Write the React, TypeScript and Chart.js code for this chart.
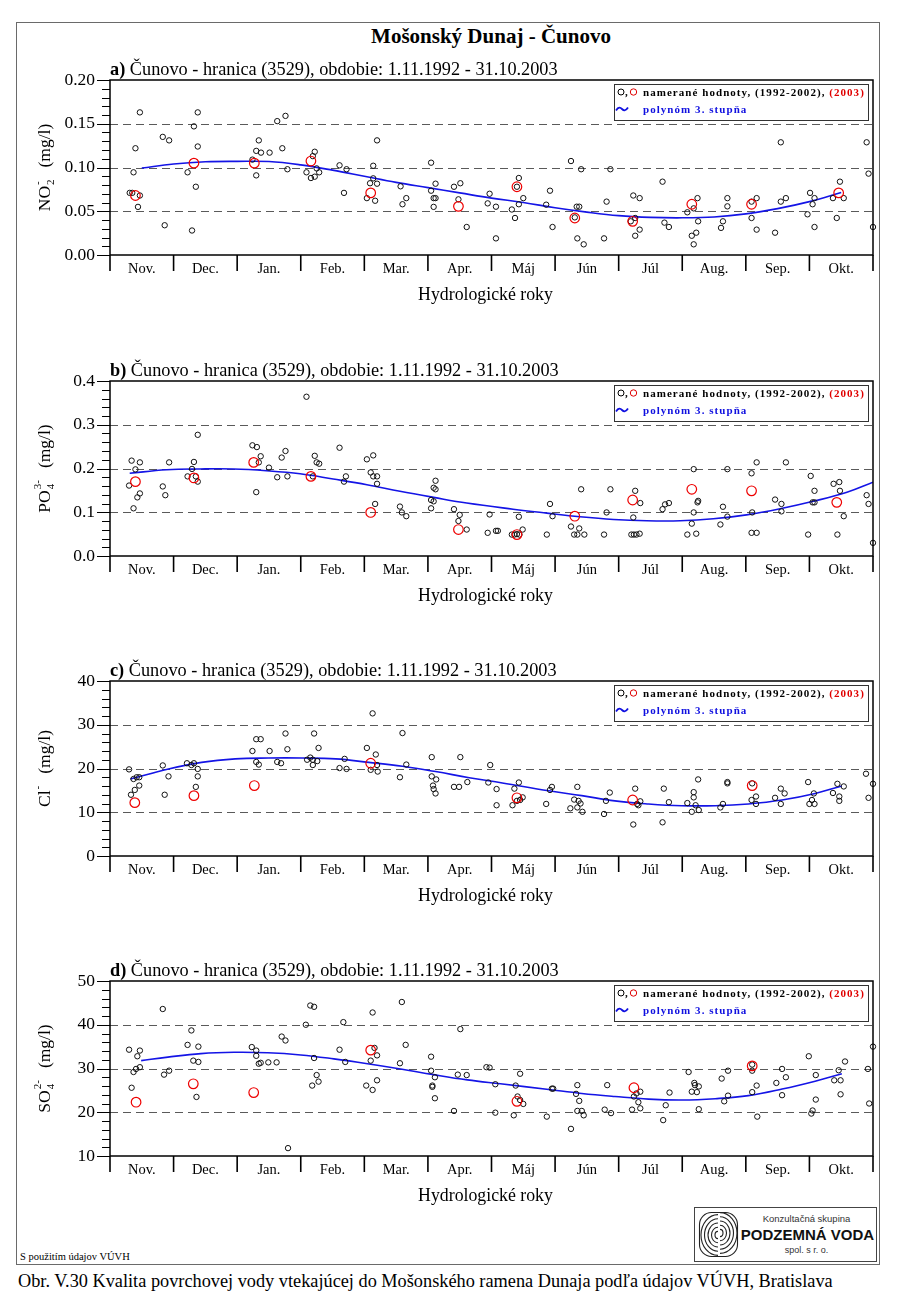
import React, { useEffect, useRef } from 'react';
import { Chart, registerables } from 'chart.js';

Chart.register(...registerables);

type Pt = [number, number];

// ---------------- data ----------------
const MAIN_TITLE = 'Mošonský Dunaj - Čunovo';
const SUBTITLE = 'Čunovo - hranica (3529), obdobie: 1.11.1992 - 31.10.2003';
const X_TITLE = 'Hydrologické roky';
const MONTHS = ['Nov.', 'Dec.', 'Jan.', 'Feb.', 'Mar.', 'Apr.', 'Máj', 'Jún', 'Júl', 'Aug.', 'Sep.', 'Okt.'];
const LEGEND_MEASURED = 'namerané hodnoty, (1992-2002), ';
const LEGEND_2003 = '(2003)';
const LEGEND_FIT = 'polynóm 3. stupňa';
const FOOT_NOTE = 'S použitím údajov VÚVH';
const CAPTION = 'Obr. V.30 Kvalita povrchovej vody vtekajúcej do Mošonského ramena Dunaja podľa údajov VÚVH, Bratislava';

// a) NO2-
const NO2_TICK_LABELS = ['0.00', '0.05', '0.10', '0.15', '0.20'];
const NO2_POINTS: Pt[] = [
  [0.31, 0.071], [0.35, 0.071], [0.47, 0.163], [0.40, 0.122], [0.37, 0.0945], [0.47, 0.068], [0.44, 0.055], [0.83, 0.135], [0.93, 0.131], [0.86, 0.034],
  [1.22, 0.0945], [1.32, 0.147], [1.38, 0.163], [1.38, 0.124], [1.35, 0.078], [1.29, 0.028],
  [2.24, 0.109], [2.30, 0.119], [2.34, 0.131], [2.375, 0.117], [2.30, 0.091], [2.51, 0.117], [2.63, 0.153], [2.76, 0.159], [2.71, 0.122], [2.79, 0.098],
  [3.22, 0.118], [3.19, 0.113], [3.09, 0.0945], [3.16, 0.088], [3.22, 0.0895], [3.29, 0.0945], [3.25, 0.099], [3.61, 0.1025], [3.72, 0.098], [3.68, 0.071],
  [4.14, 0.102], [4.20, 0.131], [4.14, 0.0876], [4.09, 0.082], [4.20, 0.0815], [4.04, 0.065], [4.17, 0.062], [4.57, 0.0785], [4.60, 0.058], [4.66, 0.065],
  [5.05, 0.1055], [5.12, 0.0815], [5.05, 0.0735], [5.09, 0.065], [5.12, 0.065], [5.09, 0.055], [5.41, 0.078], [5.51, 0.082], [5.48, 0.0636], [5.61, 0.032],
  [5.97, 0.070], [5.94, 0.059], [6.07, 0.0552], [6.07, 0.019],
  [6.43, 0.088], [6.40, 0.078], [6.32, 0.052], [6.37, 0.0423], [6.43, 0.058], [6.50, 0.065], [6.86, 0.0575], [6.92, 0.0735], [6.96, 0.032],
  [7.25, 0.1074], [7.41, 0.098], [7.34, 0.0552], [7.38, 0.0552], [7.31, 0.043], [7.35, 0.019], [7.45, 0.0122], [7.77, 0.019], [7.81, 0.061], [7.87, 0.098],
  [8.23, 0.068], [8.33, 0.065], [8.19, 0.0385], [8.26, 0.0423], [8.33, 0.029], [8.26, 0.022], [8.69, 0.0838], [8.72, 0.037], [8.79, 0.032],
  [9.24, 0.065], [9.18, 0.0533], [9.08, 0.0488], [9.25, 0.0385], [9.22, 0.0255], [9.15, 0.022], [9.18, 0.0122], [9.71, 0.065], [9.71, 0.0556], [9.64, 0.0385], [9.61, 0.031],
  [10.09, 0.061], [10.17, 0.065], [10.09, 0.0423], [10.17, 0.029], [10.46, 0.0255], [10.55, 0.061], [10.63, 0.065], [10.55, 0.1288],
  [11.01, 0.071], [11.08, 0.065], [11.05, 0.058], [10.97, 0.0465], [11.08, 0.032], [11.48, 0.0838], [11.37, 0.065], [11.54, 0.065], [11.43, 0.0423],
  [11.90, 0.1288], [11.93, 0.093], [12.0, 0.032],
];
const NO2_2003: Pt[] = [
  [0.40, 0.068], [1.32, 0.105], [2.27, 0.105], [3.16, 0.1074], [4.10, 0.071], [5.48, 0.0556],
  [6.40, 0.078], [7.31, 0.0423], [8.22, 0.0385], [9.15, 0.058], [10.09, 0.058], [11.46, 0.071],
];
const NO2_FIT: Pt[] = [
  [0.5, 0.0994], [1.0, 0.104], [1.5, 0.1065], [2.0, 0.107], [2.5, 0.1068], [3.0, 0.103], [3.5, 0.097], [4.0, 0.090],
  [4.5, 0.083], [5.0, 0.077], [5.5, 0.071], [6.0, 0.065], [6.5, 0.060], [7.0, 0.054], [7.5, 0.049], [8.0, 0.045],
  [8.5, 0.043], [9.0, 0.0425], [9.5, 0.0435], [10.0, 0.047], [10.5, 0.053], [11.0, 0.061], [11.5, 0.0715],
];

// b) PO4 3-
const PO4_TICK_LABELS = ['0.0', '0.1', '0.2', '0.3', '0.4'];
const PO4_POINTS: Pt[] = [
  [0.34, 0.218], [0.47, 0.214], [0.40, 0.198], [0.30, 0.161], [0.47, 0.143], [0.43, 0.134], [0.37, 0.109], [0.93, 0.214], [0.83, 0.159], [0.87, 0.139],
  [1.38, 0.277], [1.32, 0.215], [1.29, 0.199], [1.22, 0.182], [1.35, 0.182], [1.38, 0.170],
  [2.24, 0.253], [2.31, 0.249], [2.37, 0.228], [2.34, 0.214], [2.30, 0.146], [2.50, 0.202], [2.63, 0.180], [2.70, 0.225], [2.76, 0.240], [2.79, 0.182],
  [3.09, 0.364], [3.22, 0.229], [3.25, 0.214], [3.29, 0.211], [3.19, 0.182], [3.61, 0.2475], [3.71, 0.182], [3.68, 0.170],
  [4.04, 0.221], [4.14, 0.230], [4.10, 0.191], [4.14, 0.182], [4.20, 0.182], [4.20, 0.165], [4.17, 0.119], [4.56, 0.113], [4.59, 0.0996], [4.66, 0.091],
  [5.12, 0.172], [5.09, 0.156], [5.12, 0.1525], [5.05, 0.128], [5.09, 0.125], [5.05, 0.109], [5.41, 0.107], [5.50, 0.094], [5.48, 0.080], [5.61, 0.0605],
  [5.97, 0.095], [5.94, 0.053], [6.07, 0.0575], [6.10, 0.0575],
  [6.43, 0.0897], [6.40, 0.050], [6.32, 0.049], [6.36, 0.049], [6.44, 0.049], [6.49, 0.0605], [6.87, 0.049], [6.92, 0.119], [6.96, 0.091],
  [7.25, 0.0674], [7.30, 0.049], [7.35, 0.049], [7.46, 0.049], [7.38, 0.063], [7.41, 0.1525], [7.77, 0.049], [7.81, 0.0996], [7.87, 0.1525],
  [8.20, 0.049], [8.24, 0.049], [8.28, 0.049], [8.33, 0.051], [8.23, 0.088], [8.26, 0.149], [8.34, 0.121], [8.69, 0.107], [8.73, 0.118], [8.79, 0.121],
  [9.18, 0.1985], [9.18, 0.0996], [9.15, 0.074], [9.08, 0.049], [9.22, 0.051], [9.24, 0.1226], [9.25, 0.126], [9.71, 0.1985], [9.64, 0.1126], [9.71, 0.090], [9.60, 0.072],
  [10.09, 0.189], [10.17, 0.214], [10.10, 0.0996], [10.09, 0.053], [10.17, 0.053], [10.46, 0.129], [10.56, 0.119], [10.56, 0.102], [10.63, 0.214],
  [11.02, 0.183], [11.08, 0.149], [11.05, 0.1226], [11.08, 0.1226], [10.98, 0.049], [11.38, 0.165], [11.47, 0.169], [11.48, 0.149], [11.54, 0.091], [11.44, 0.049],
  [11.90, 0.139], [11.93, 0.119], [12.0, 0.030],
];
const PO4_2003: Pt[] = [
  [0.40, 0.170], [1.32, 0.1785], [2.26, 0.214], [3.16, 0.182], [4.10, 0.0996], [5.48, 0.0605],
  [6.40, 0.049], [7.31, 0.091], [8.22, 0.128], [9.15, 0.1525], [10.09, 0.149], [11.43, 0.1226],
];
const PO4_FIT: Pt[] = [
  [0.31, 0.189], [0.89, 0.197], [1.42, 0.199], [1.94, 0.199], [2.46, 0.195], [2.99, 0.188], [3.51, 0.176], [4.04, 0.163],
  [4.56, 0.148], [5.09, 0.134], [5.61, 0.121], [6.34, 0.107], [6.87, 0.098], [7.39, 0.0897], [7.92, 0.0835], [8.44, 0.0805],
  [8.97, 0.0805], [9.49, 0.085], [10.01, 0.094], [10.54, 0.108], [11.06, 0.125], [11.59, 0.1456], [12.0, 0.1686],
];

// c) Cl-
const CL_TICK_LABELS = ['0', '10', '20', '30', '40'];
const CL_POINTS: Pt[] = [
  [0.30, 19.8], [0.37, 17.6], [0.42, 18.0], [0.46, 18.0], [0.46, 16.1], [0.39, 15.1], [0.33, 14.0], [0.83, 20.7], [0.92, 18.2], [0.86, 14.0],
  [1.21, 21.2], [1.32, 21.2], [1.28, 20.8], [1.38, 19.9], [1.38, 18.2], [1.35, 15.8],
  [2.30, 26.7], [2.37, 26.7], [2.24, 24.0], [2.30, 21.5], [2.34, 20.9], [2.51, 24.0], [2.63, 21.5], [2.69, 21.2], [2.76, 28.0], [2.79, 24.4],
  [3.10, 22.0], [3.15, 22.5], [3.21, 28.0], [3.19, 22.0], [3.26, 21.7], [3.19, 20.8], [3.28, 24.7], [3.69, 22.2], [3.61, 20.1], [3.72, 19.9],
  [4.04, 24.7], [4.13, 32.6], [4.18, 23.2], [4.20, 20.8], [4.10, 19.7], [4.21, 19.3], [4.60, 28.1], [4.66, 20.9], [4.56, 18.0],
  [5.06, 22.6], [5.06, 18.2], [5.13, 17.5], [5.08, 16.1], [5.09, 15.3], [5.12, 14.3], [5.51, 22.6], [5.41, 15.8], [5.49, 15.8], [5.62, 16.9],
  [5.98, 20.8], [5.95, 16.8], [6.08, 15.3], [6.08, 11.6],
  [6.33, 11.6], [6.36, 15.4], [6.43, 16.8], [6.49, 13.4], [6.40, 12.6], [6.45, 12.8], [6.86, 11.9], [6.92, 15.1], [6.95, 15.8],
  [7.24, 10.9], [7.35, 15.8], [7.30, 12.9], [7.37, 12.6], [7.40, 12.0], [7.35, 11.1], [7.43, 10.1], [7.77, 9.6], [7.80, 12.6], [7.86, 14.5],
  [8.26, 15.4], [8.23, 7.2], [8.29, 11.9], [8.34, 12.5], [8.31, 11.6], [8.71, 15.4], [8.69, 7.7], [8.79, 12.3],
  [9.25, 17.5], [9.18, 14.6], [9.18, 13.4], [9.08, 12.1], [9.21, 11.6], [9.26, 10.5], [9.15, 10.1], [9.64, 11.9], [9.60, 11.1], [9.71, 16.6], [9.71, 16.9],
  [10.10, 16.6], [10.16, 13.6], [10.09, 12.8], [10.16, 11.9], [10.46, 13.3], [10.55, 15.4], [10.61, 14.3], [10.55, 11.9],
  [10.98, 16.9], [11.07, 14.3], [11.04, 12.8], [11.00, 11.9], [11.08, 11.9], [11.44, 16.5], [11.54, 15.9], [11.37, 14.4], [11.47, 13.6], [11.47, 12.6],
  [11.89, 18.8], [11.93, 13.3], [12.0, 16.5],
];
const CL_2003: Pt[] = [
  [0.39, 12.2], [1.32, 13.8], [2.27, 16.1], [4.10, 21.2], [6.40, 13.3], [8.22, 12.8], [10.10, 16.1],
];
const CL_FIT: Pt[] = [
  [0.32, 17.6], [0.92, 19.9], [1.44, 21.4], [1.97, 22.2], [2.49, 22.4], [3.02, 22.4], [3.55, 22.2], [4.07, 21.4],
  [4.60, 20.5], [5.12, 19.3], [5.65, 17.9], [6.17, 16.7], [6.90, 14.9], [7.42, 13.8], [7.94, 12.6], [8.47, 11.9],
  [8.99, 11.5], [9.52, 11.5], [10.04, 11.9], [10.57, 12.8], [11.09, 14.3], [11.51, 16.0],
];

// d) SO4 2-
const SO4_TICK_LABELS = ['10', '20', '30', '40', '50'];
const SO4_POINTS: Pt[] = [
  [0.30, 34.3], [0.47, 34.1], [0.43, 32.8], [0.47, 30.3], [0.41, 29.9], [0.37, 29.2], [0.34, 25.6], [0.83, 43.6], [0.93, 29.5], [0.85, 28.6],
  [1.28, 38.7], [1.22, 35.4], [1.39, 35.0], [1.31, 31.8], [1.39, 31.5], [1.36, 23.5],
  [2.23, 34.9], [2.30, 34.1], [2.30, 32.9], [2.34, 31.1], [2.37, 31.3], [2.49, 31.4], [2.62, 31.4], [2.70, 37.3], [2.76, 36.4], [2.80, 11.8],
  [3.08, 40.0], [3.15, 44.4], [3.21, 44.1], [3.21, 32.4], [3.18, 26.1], [3.25, 28.5], [3.28, 27.0], [3.67, 40.6], [3.61, 34.3], [3.70, 31.5],
  [4.13, 42.8], [4.16, 34.7], [4.20, 33.0], [4.10, 31.8], [4.03, 26.1], [4.13, 25.1], [4.20, 27.3], [4.59, 45.2], [4.65, 35.4], [4.56, 31.2],
  [5.05, 32.7], [5.05, 29.5], [5.11, 28.0], [5.07, 26.1], [5.07, 25.8], [5.11, 23.2], [5.51, 39.0], [5.47, 28.6], [5.61, 28.5], [5.41, 20.3],
  [5.92, 30.3], [5.97, 30.2], [6.06, 26.4], [6.06, 19.9],
  [6.45, 28.8], [6.38, 26.1], [6.41, 23.6], [6.45, 22.8], [6.50, 21.9], [6.35, 19.3], [6.87, 19.0], [6.95, 25.4], [6.97, 25.4],
  [7.25, 16.2], [7.35, 26.2], [7.33, 24.2], [7.38, 22.6], [7.35, 20.3], [7.42, 20.3], [7.45, 19.3], [7.82, 26.2], [7.78, 20.6], [7.88, 19.8],
  [8.24, 23.6], [8.28, 24.3], [8.34, 24.7], [8.31, 22.3], [8.34, 20.9], [8.21, 20.6], [8.70, 18.2], [8.74, 21.6], [8.80, 24.5],
  [9.10, 29.2], [9.19, 26.7], [9.20, 26.2], [9.26, 25.9], [9.15, 24.7], [9.23, 24.6], [9.26, 20.7], [9.62, 27.7], [9.72, 29.5], [9.66, 22.5], [9.72, 23.8],
  [10.10, 30.9], [10.10, 29.5], [10.17, 26.1], [10.10, 24.6], [10.18, 19.0], [10.48, 26.7], [10.57, 29.9], [10.63, 28.0], [10.57, 23.9],
  [10.99, 32.8], [11.10, 28.5], [11.10, 22.9], [11.05, 20.4], [11.03, 19.7], [11.46, 29.6], [11.56, 31.6], [11.39, 27.3], [11.49, 27.3], [11.49, 24.1],
  [11.92, 29.9], [12.0, 35.0], [11.94, 22.0],
];
const SO4_2003: Pt[] = [
  [0.41, 22.3], [1.31, 26.5], [2.26, 24.5], [4.10, 34.2], [6.40, 22.5], [8.24, 25.6], [10.10, 30.6],
];
const SO4_FIT: Pt[] = [
  [0.49, 31.8], [0.91, 32.6], [1.43, 33.4], [1.95, 33.7], [2.48, 33.6], [3.0, 33.1], [3.52, 32.2], [4.05, 31.1],
  [4.57, 29.9], [5.09, 28.6], [5.62, 27.4], [6.14, 26.5], [6.90, 25.2], [7.42, 24.3], [7.94, 23.6], [8.47, 23.0],
  [8.99, 22.8], [9.52, 23.1], [10.04, 23.8], [10.57, 25.3], [11.09, 27.1], [11.51, 28.8],
];

// ---------------- layout / style ----------------
const SERIF = '"Liberation Serif", "Times New Roman", serif';
const SANS = '"Liberation Sans", Arial, sans-serif';

type YTitle = { main: string; sub?: string; sup?: string };
type Panel = {
  letter: string; points: Pt[]; points2003: Pt[]; fit: Pt[]; tickLabels: string[]; yTitle: YTitle; top: number;
};

const PANELS: Panel[] = [
  { letter: 'a)', points: NO2_POINTS, points2003: NO2_2003, fit: NO2_FIT, tickLabels: NO2_TICK_LABELS, yTitle: { main: 'NO', sub: '2', sup: '-' }, top: 80 },
  { letter: 'b)', points: PO4_POINTS, points2003: PO4_2003, fit: PO4_FIT, tickLabels: PO4_TICK_LABELS, yTitle: { main: 'PO', sub: '4', sup: '3-' }, top: 381 },
  { letter: 'c)', points: CL_POINTS, points2003: CL_2003, fit: CL_FIT, tickLabels: CL_TICK_LABELS, yTitle: { main: 'Cl', sup: '-' }, top: 681 },
  { letter: 'd)', points: SO4_POINTS, points2003: SO4_2003, fit: SO4_FIT, tickLabels: SO4_TICK_LABELS, yTitle: { main: 'SO', sub: '4', sup: '2-' }, top: 981 },
];

const CANVAS_H = 300;
const PAD_TOP = 30;
const PLOT_H = 175;
const MINOR_PER_MAJOR = 5;

function drawYTitle(ctx: CanvasRenderingContext2D, cx: number, cy: number, t: YTitle) {
  const big = `17.5px ${SERIF}`;
  const small = `11px ${SERIF}`;
  ctx.save();
  ctx.translate(cx, cy);
  ctx.rotate(-Math.PI / 2);
  ctx.fillStyle = '#000';
  ctx.textAlign = 'left';
  ctx.textBaseline = 'alphabetic';
  ctx.font = big;
  const wMain = ctx.measureText(t.main).width;
  const unit = '(mg/l)';
  const wUnit = ctx.measureText(unit).width;
  ctx.font = small;
  const wSub = t.sub ? ctx.measureText(t.sub).width : 0;
  const wSup = t.sup ? ctx.measureText(t.sup).width : 0;
  const wScript = Math.max(wSub, wSup);
  const gap = 12;
  const total = wMain + 1 + wScript + gap + wUnit;
  let x = -total / 2;
  const base = 6;
  ctx.font = big;
  ctx.fillText(t.main, x, base);
  x += wMain + 1;
  ctx.font = small;
  if (t.sub) ctx.fillText(t.sub, x, base + 4);
  if (t.sup) ctx.fillText(t.sup, x, base - 9);
  x += wScript + gap;
  ctx.font = big;
  ctx.fillText(unit, x, base);
  ctx.restore();
}

function drawLegend(ctx: CanvasRenderingContext2D, a: { left: number; right: number; top: number; bottom: number }) {
  const bw = 254, bh = 36;
  const bx = a.right - bw - 5;
  const by = a.top + 4;
  ctx.save();
  ctx.setLineDash([]);
  ctx.fillStyle = '#fff';
  ctx.fillRect(bx, by, bw, bh);
  ctx.strokeStyle = '#333';
  ctx.lineWidth = 1;
  ctx.strokeRect(bx + 0.5, by + 0.5, bw, bh);
  // symbols
  ctx.lineWidth = 1;
  ctx.strokeStyle = '#000';
  ctx.beginPath(); ctx.arc(bx + 7, by + 8, 3, 0, Math.PI * 2); ctx.stroke();
  ctx.strokeStyle = '#e00000';
  ctx.beginPath(); ctx.arc(bx + 19.5, by + 8, 3.2, 0, Math.PI * 2); ctx.stroke();
  ctx.fillStyle = '#000';
  ctx.font = `bold 11px ${SERIF}`;
  ctx.textBaseline = 'alphabetic';
  ctx.textAlign = 'left';
  ctx.fillText(',', bx + 11, by + 12);
  // wave
  ctx.strokeStyle = '#1010e0';
  ctx.lineWidth = 1.8;
  ctx.beginPath();
  const wx = bx + 2, wy = by + 25;
  ctx.moveTo(wx, wy + 1.5);
  ctx.bezierCurveTo(wx + 2.5, wy - 2.5, wx + 4.5, wy - 1.5, wx + 6, wy);
  ctx.bezierCurveTo(wx + 7.5, wy + 1.5, wx + 9.5, wy + 2.5, wx + 12, wy - 1.5);
  ctx.stroke();
  // text
  (ctx as any).letterSpacing = '1.05px';
  ctx.font = `bold 11px ${SERIF}`;
  ctx.fillStyle = '#000';
  const tx = bx + 29;
  ctx.fillText(LEGEND_MEASURED, tx, by + 12);
  const w = ctx.measureText(LEGEND_MEASURED).width;
  ctx.fillStyle = '#e00000';
  ctx.fillText(LEGEND_2003, tx + w, by + 12);
  ctx.fillStyle = '#1010e0';
  ctx.fillText(LEGEND_FIT, tx, by + 29);
  ctx.restore();
}

function PanelChart({ panel }: { panel: Panel }) {
  const ref = useRef<HTMLCanvasElement | null>(null);
  useEffect(() => {
    const canvas = ref.current;
    if (!canvas) return;
    const majors = panel.tickLabels.map(Number);
    const tickVals: number[] = [];
    for (let i = 0; i < majors.length - 1; i++) {
      const step = (majors[i + 1] - majors[i]) / MINOR_PER_MAJOR;
      for (let k = 0; k < MINOR_PER_MAJOR; k++) tickVals.push(+(majors[i] + k * step).toFixed(6));
    }
    tickVals.push(majors[majors.length - 1]);
    const yMin = majors[0];
    const yMax = majors[majors.length - 1];

    const decor = {
      id: 'decor' + panel.letter,
      beforeDatasetsDraw(chart: any) {
        const { ctx, chartArea: a } = chart;
        const y = chart.scales.y;
        ctx.save();
        ctx.strokeStyle = '#5a5a5a';
        ctx.lineWidth = 1;
        ctx.setLineDash([8, 5]);
        majors.slice(1, -1).forEach((v) => {
          const py = Math.round(y.getPixelForValue(v)) + 0.5;
          ctx.beginPath();
          ctx.moveTo(a.left, py);
          ctx.lineTo(a.right, py);
          ctx.stroke();
        });
        ctx.restore();
      },
      afterDraw(chart: any) {
        const { ctx, chartArea: a } = chart;
        const x = chart.scales.x;
        const y = chart.scales.y;
        ctx.save();
        ctx.setLineDash([]);
        ctx.strokeStyle = '#000';
        // y tick marks
        ctx.lineWidth = 1;
        tickVals.forEach((v, i) => {
          const py = Math.round(y.getPixelForValue(v)) + 0.5;
          const len = i % MINOR_PER_MAJOR === 0 ? 13 : 8;
          ctx.beginPath();
          ctx.moveTo(a.left - len, py);
          ctx.lineTo(a.left, py);
          ctx.stroke();
        });
        // x month boundaries
        ctx.lineWidth = 1.6;
        for (let i = 0; i <= MONTHS.length; i++) {
          const px = x.getPixelForValue(i);
          ctx.beginPath();
          ctx.moveTo(px, a.bottom);
          ctx.lineTo(px, a.bottom + 16);
          ctx.stroke();
        }
        // frame
        ctx.lineWidth = 1.5;
        ctx.strokeRect(a.left, a.top, a.right - a.left, a.bottom - a.top);
        // subtitle
        ctx.fillStyle = '#000';
        ctx.textBaseline = 'alphabetic';
        ctx.textAlign = 'left';
        ctx.font = `bold 18.3px ${SERIF}`;
        ctx.fillText(panel.letter, a.left, a.top - 5);
        const wl = ctx.measureText(panel.letter + ' ').width;
        ctx.font = `18.3px ${SERIF}`;
        ctx.fillText(SUBTITLE, a.left + wl, a.top - 5);
        // x title
        ctx.textAlign = 'center';
        ctx.font = `17.8px ${SERIF}`;
        ctx.fillText(X_TITLE, (a.left + a.right) / 2 - 6, a.bottom + 45);
        ctx.restore();
        drawYTitle(ctx, 44, (a.top + a.bottom) / 2, panel.yTitle);
        drawLegend(ctx, a);
      },
    };

    const chart = new Chart(canvas, {
      type: 'scatter',
      data: {
        datasets: [
          {
            data: panel.fit.map(([px, py]) => ({ x: px, y: py })),
            showLine: true,
            borderColor: '#1414e6',
            borderWidth: 1.6,
            pointRadius: 0,
            tension: 0.4,
            order: 3,
          } as any,
          {
            data: panel.points.map(([px, py]) => ({ x: px, y: py })),
            pointRadius: 2.7,
            pointBorderWidth: 1,
            pointBorderColor: '#111',
            pointBackgroundColor: 'rgba(0,0,0,0)',
            clip: 8,
            order: 2,
          } as any,
          {
            data: panel.points2003.map(([px, py]) => ({ x: px, y: py })),
            pointRadius: 4.8,
            pointBorderWidth: 1.2,
            pointBorderColor: '#ee0000',
            pointBackgroundColor: 'rgba(0,0,0,0)',
            clip: 8,
            order: 1,
          } as any,
        ],
      },
      options: {
        animation: false,
        responsive: false,
        maintainAspectRatio: false,
        events: [],
        layout: { padding: { top: PAD_TOP, right: 27, left: 0, bottom: 0 } },
        plugins: { legend: { display: false }, tooltip: { enabled: false }, title: { display: false } },
        scales: {
          x: {
            type: 'linear',
            min: 0,
            max: MONTHS.length,
            grid: { display: false, drawTicks: false },
            border: { display: false },
            afterBuildTicks: (s: any) => { s.ticks = MONTHS.map((_, i) => ({ value: i + 0.5 })); },
            afterFit: (s: any) => { s.height = CANVAS_H - PAD_TOP - PLOT_H; },
            ticks: {
              autoSkip: false,
              maxRotation: 0,
              padding: 5,
              color: '#000',
              font: { family: SERIF, size: 14.5 },
              callback: (_v: any, i: number) => MONTHS[i],
            },
          },
          y: {
            type: 'linear',
            min: yMin,
            max: yMax,
            grid: { display: false, drawTicks: false },
            border: { display: false },
            afterBuildTicks: (s: any) => { s.ticks = tickVals.map((v) => ({ value: v })); },
            afterFit: (s: any) => { s.width = 110; },
            ticks: {
              autoSkip: false,
              padding: 15,
              color: '#000',
              font: { family: SERIF, size: 17.5 },
              callback: (_v: any, i: number) => (i % MINOR_PER_MAJOR === 0 ? panel.tickLabels[i / MINOR_PER_MAJOR] : ''),
            },
          },
        },
      } as any,
      plugins: [decor],
    });
    return () => chart.destroy();
  }, [panel]);
  return (
    <canvas
      ref={ref}
      width={900}
      height={CANVAS_H}
      style={{ position: 'absolute', left: 0, top: panel.top - PAD_TOP, width: 900, height: CANVAS_H }}
    />
  );
}

function Logo() {
  const rings = [3, 6.5, 10, 13.5, 17];
  return (
    <div style={{ position: 'absolute', left: 694, top: 1207, width: 183, height: 55, border: '1px solid #444', boxSizing: 'border-box', background: '#fff' }}>
      <svg width={42} height={48} style={{ position: 'absolute', left: 3, top: 3 }} viewBox="0 0 42 48">
        <rect x={1.5} y={1.5} width={38} height={44} rx={12} ry={12} fill="none" stroke="#222" strokeWidth={1.1} />
        {rings.map((r) => (
          <path key={'l' + r} d={`M 20 ${24 - r * 1.2} A ${r} ${r * 1.2} 0 0 0 20 ${24 + r * 1.2}`} fill="none" stroke="#222" strokeWidth={1.1} />
        ))}
        {rings.map((r) => (
          <path key={'r' + r} d={`M 22 ${22 + r * 1.2} A ${r} ${r * 1.2} 0 0 0 22 ${22 - r * 1.2}`} fill="none" stroke="#222" strokeWidth={1.1} />
        ))}
      </svg>
      <div style={{ position: 'absolute', left: 44, width: 135, top: 6, textAlign: 'center', fontFamily: SANS, fontSize: 9.5, lineHeight: '10px', color: '#333' }}>Konzultačná skupina</div>
      <div style={{ position: 'absolute', left: 44, width: 137, top: 19, textAlign: 'center', fontFamily: SANS, fontWeight: 'bold', fontSize: 15, lineHeight: '15px', color: '#111' }}>PODZEMNÁ VODA</div>
      <div style={{ position: 'absolute', left: 44, width: 135, top: 38, textAlign: 'center', fontFamily: SANS, fontSize: 9, lineHeight: '9px', color: '#333' }}>spol. s r. o.</div>
    </div>
  );
}

export default function App() {
  return (
    <div style={{ position: 'absolute', left: 0, top: 0, width: 900, height: 1306, background: '#fff', fontFamily: SERIF, color: '#000' }}>
      <div style={{ position: 'absolute', left: 16, top: 22, width: 864, height: 1243, border: '1px solid #6a6a6a', boxSizing: 'border-box' }} />
      <div style={{ position: 'absolute', left: 0, width: 982, top: 26, textAlign: 'center', fontWeight: 'bold', fontSize: 21, lineHeight: '21px' }}>{MAIN_TITLE}</div>
      {PANELS.map((p) => (
        <PanelChart key={p.letter} panel={p} />
      ))}
      <div style={{ position: 'absolute', left: 20, top: 1252, fontSize: 10.5, lineHeight: '10.5px', whiteSpace: 'nowrap' }}>{FOOT_NOTE}</div>
      <Logo />
      <div style={{ position: 'absolute', left: 18, top: 1272, fontSize: 18.3, lineHeight: '18.3px', whiteSpace: 'nowrap' }}>{CAPTION}</div>
    </div>
  );
}
